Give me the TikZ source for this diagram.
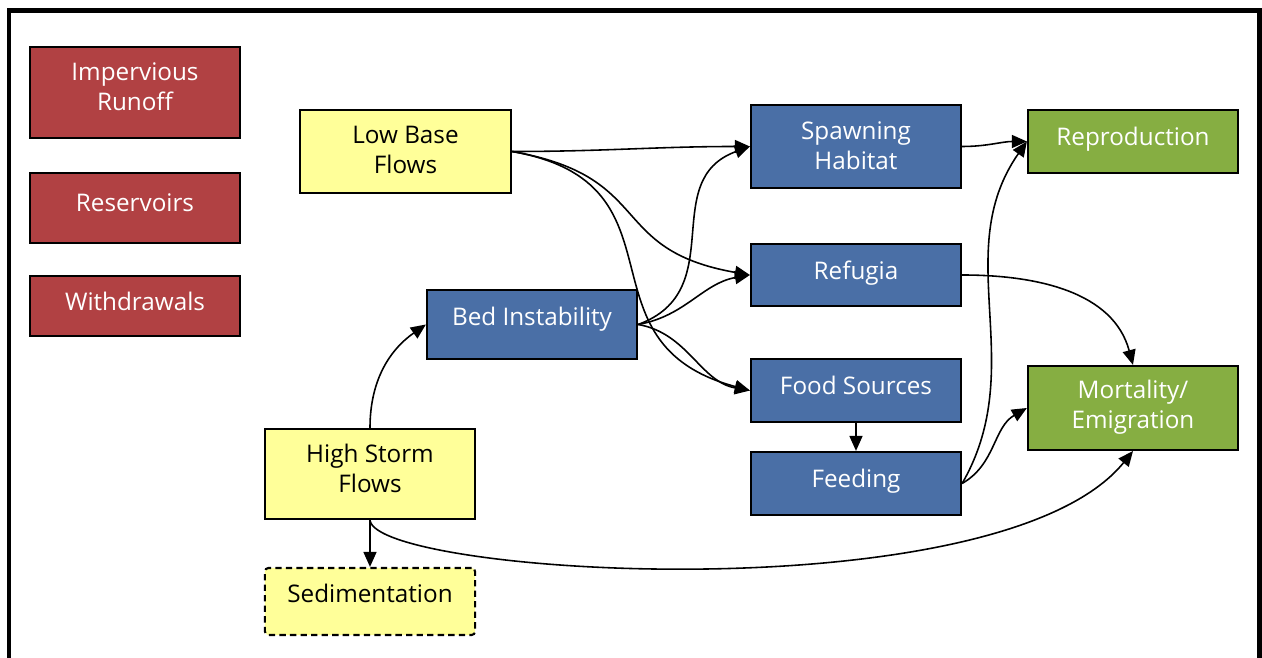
\documentclass[tikz,border=0pt]{standalone}
\usepackage{fontspec}
\setmainfont{Open Sans}
\usetikzlibrary{arrows.meta}
\definecolor{boxred}{RGB}{177,65,67}
\definecolor{boxblue}{RGB}{74,111,166}
\definecolor{boxgreen}{RGB}{134,174,66}
\definecolor{boxyellow}{RGB}{255,255,153}
\tikzset{
  box/.style={draw=black, line width=0.6pt, minimum width=2.1cm, align=center, inner sep=0pt, text depth=0.1cm, font=\fontsize{6.9}{8.5}\selectfont},
  redbox/.style={box, fill=boxred, text=white},
  bluebox/.style={box, fill=boxblue, text=white},
  greenbox/.style={box, fill=boxgreen, text=white},
  yellowbox/.style={box, fill=boxyellow, text=black},
  conn/.style={line width=0.45pt, -{Triangle[length=0.15cm,width=0.13cm]}}
}

\begin{document}
\begin{tikzpicture}[x=0.01cm, y=-0.01cm]
		%%%%% START %%%%%
		\useasboundingbox (0,0) rectangle (1262,658);
		\draw[line width=1.15pt] (9,658) -- (9,10.5) -- (1259.5,10.5) -- (1259.5,658);
		
		% pressures
		\node[redbox, minimum height=0.91cm, text depth=0.11cm] (imp) at (135,92.5) {Impervious\\Runoff};
		\node[redbox, minimum height=0.70cm] (res) at (135,208) {Reservoirs};
		\node[redbox, minimum height=0.60cm] (wdr) at (135,306) {Withdrawals};
		
		% flows
		\node[yellowbox, minimum width=2.11cm, minimum height=0.83cm, text depth=0.03cm] (lbf) at (405.5,151.5) {Low Base\\Flows};
		\node[yellowbox, minimum height=0.90cm, text depth=0.11cm] (hsf) at (370,474) {High Storm\\Flows};
		\node[yellowbox, dashed, dash pattern=on 1.8pt off 1.2pt, rounded corners=1pt, minimum height=0.67cm, text depth=0.16cm] (sed) at (370,601.5) {Sedimentation};
		
		% habitat
		\node[bluebox, minimum height=0.69cm, text depth=0.16cm] (bed) at (532,324.5) {Bed Instability};
		\node[bluebox, minimum height=0.83cm, text depth=0.01cm] (spa) at (856,146.5) {Spawning\\Habitat};
		\node[bluebox, minimum height=0.62cm] (ref) at (856,275) {Refugia};
		\node[bluebox, minimum height=0.63cm] (food) at (856,390.5) {Food Sources};
		\node[bluebox, minimum height=0.63cm] (feed) at (856,483.5) {Feeding};
		
		% response
		\node[greenbox, minimum height=0.63cm] (repr) at (1133,141.5) {Reproduction};
		\node[greenbox, minimum height=0.84cm, text depth=0.07cm] (mort) at (1133,408) {Mortality/\\Emigration};
		
		\draw[conn] (lbf.east) to[out=0, in=180] (spa.west);
		\draw[conn] (lbf.east) to[out=-10, in=170, looseness=1.4] (ref.west);
		\draw[conn] (lbf.east) to[out=-10, in=165, looseness=1.4] (food.west);
		
		\draw[conn] (bed.east) to[out=20, in=200, looseness=1.2] (spa.west);
		\draw[conn] (bed.east) to[out=10, in=190] (ref.west);
		\draw[conn] (bed.east) to[out=-10, in=170] (food.west);
		
		\draw[conn] (hsf.north) to[out=90, in=215] (bed.west);
		\draw[conn] (hsf.south) -- (sed.north);
		\draw[conn] (hsf.south) .. controls (375,575) and (1000,615) .. (mort.south);
		
		\draw[conn] (food.south) -- (feed.north);
		\draw[conn] (spa.east) to[out=0, in=180] (repr.west);
		\draw[conn] (ref.east) to[out=0, in=105] (mort.north);
		\draw[conn] (feed.east) to[out=60, in=235] (repr.west);
		\draw[conn] (feed.east) to[out=30, in=210] (mort.west);
		
		%%%%% END %%%%%
\end{tikzpicture}
\end{document}
